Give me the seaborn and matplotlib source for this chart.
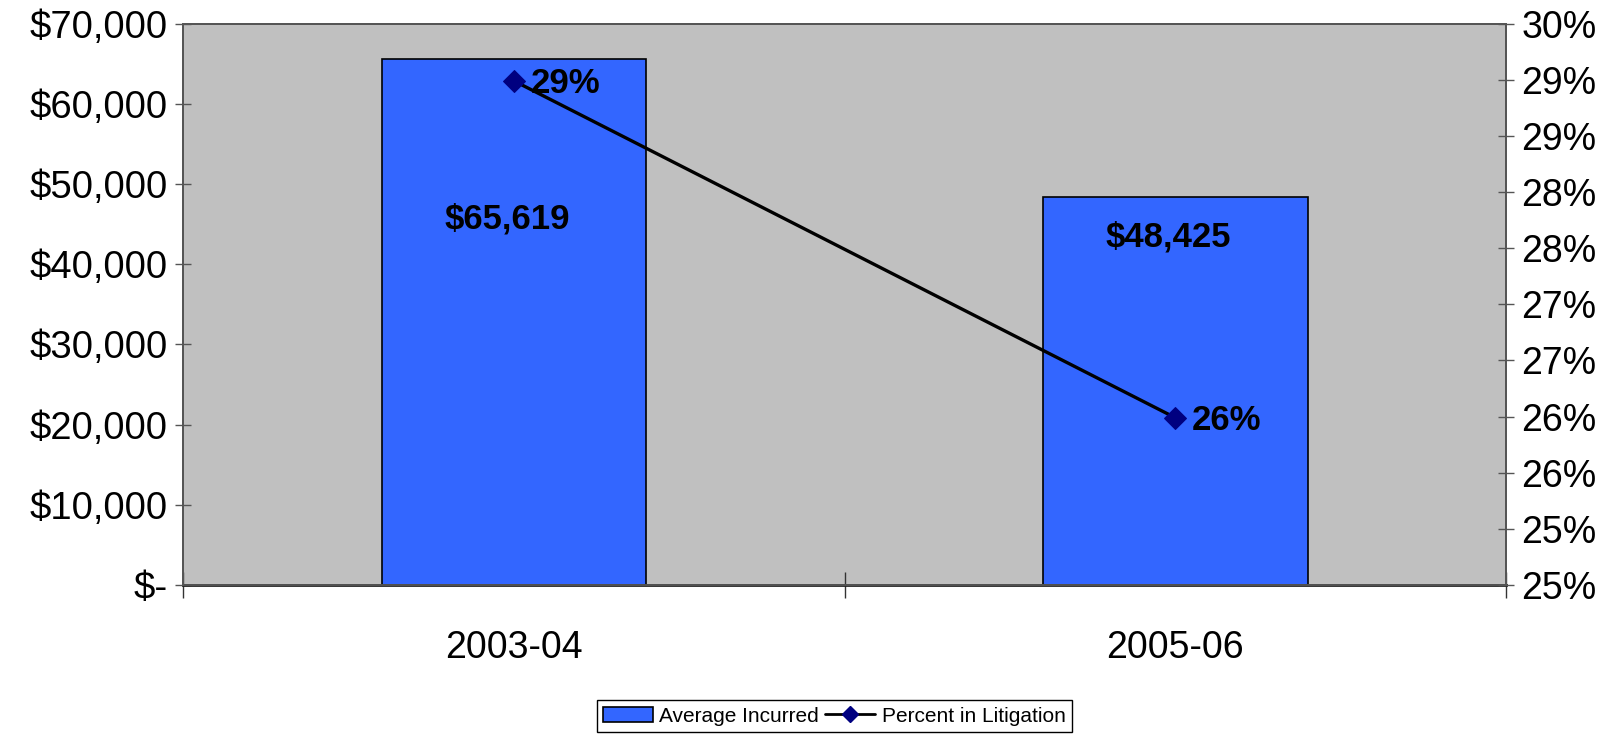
import matplotlib
matplotlib.use("Agg")
import matplotlib.pyplot as plt
from matplotlib.patches import Patch
from matplotlib.lines import Line2D
import seaborn as sns
import pandas as pd

# Data
periods = ["2003-04", "2005-06"]
avg_incurred = [65619, 48425]
pct_litigation = [0.2949, 0.2649]

money_ticks = [0, 10000, 20000, 30000, 40000, 50000, 60000, 70000]
money_tick_labels = ["$-", "$10,000", "$20,000", "$30,000", "$40,000",
                     "$50,000", "$60,000", "$70,000"]
pct_ticks = [0.25, 0.255, 0.26, 0.265, 0.27, 0.275, 0.28, 0.285, 0.29, 0.295, 0.30]
pct_tick_labels = ["25%", "25%", "26%", "26%", "27%", "27%",
                   "28%", "28%", "29%", "29%", "30%"]

df = pd.DataFrame({"period": periods, "avg": avg_incurred, "pct": pct_litigation})

sns.set_theme(style="white")
plt.rcParams["font.family"] = ["Liberation Sans", "DejaVu Sans"]
plt.rcParams["text.color"] = "black"
plt.rcParams["xtick.color"] = "black"
plt.rcParams["ytick.color"] = "black"
plt.rcParams["xtick.labelcolor"] = "black"
plt.rcParams["ytick.labelcolor"] = "black"

fig = plt.figure(figsize=(16.23, 7.36), dpi=100)
ax = fig.add_axes([0.1128, 0.205, 0.8152, 0.763])
ax.set_facecolor("#C0C0C0")

bar_color = "#3366FF"
sns.barplot(data=df, x="period", y="avg", ax=ax, color=bar_color, width=0.4,
            edgecolor="black", linewidth=1.2, saturation=1)
ax.set_xlim(-0.5, 1.5)
ax.set_ylim(0, 70000)
ax.set_yticks(money_ticks)
ax.set_yticklabels(money_tick_labels)
ax.set_xlabel("")
ax.set_ylabel("")

# bar value labels, placed in the upper part of each bar
label_y = [45600, 43400]
for i, v in enumerate(avg_incurred):
    ax.text(i - 0.01, label_y[i], f"${v:,}", ha="center", va="center",
            fontsize=25, fontweight="bold", color="black")

# secondary axis: share in litigation
ax2 = ax.twinx()
ax2.set_facecolor("none")
sns.lineplot(data=df, x="period", y="pct", ax=ax2, color="black", linewidth=2.4,
             marker="D", markersize=11, markerfacecolor="#000080",
             markeredgecolor="#000080", legend=False)
ax2.set_ylim(0.25, 0.30)
ax2.set_yticks(pct_ticks)
ax2.set_yticklabels(pct_tick_labels)
ax2.set_xlim(-0.5, 1.5)
ax2.set_xlabel("")
ax2.set_ylabel("")
for i, p in enumerate(pct_litigation):
    ax2.annotate(f"{round(p * 100)}%", (i, p), xytext=(12, -2),
                 textcoords="offset points", ha="left", va="center",
                 fontsize=25, fontweight="bold", color="black")

# axes styling
for a in (ax, ax2):
    for s in a.spines.values():
        s.set_color("#555555")
        s.set_linewidth(1.3)
ax.spines["bottom"].set_color("#222222")
ax.spines["bottom"].set_linewidth(2)

ax.tick_params(axis="y", direction="inout", length=12, width=1, color="#555555",
               labelsize=27.5, pad=5, left=True)
ax2.tick_params(axis="y", direction="inout", length=12, width=1, color="#555555",
                labelsize=27, pad=5, right=True)
ax.set_xticks([0, 1])
ax.set_xticklabels(periods)
ax.tick_params(axis="x", which="major", length=0, labelsize=27, pad=32)
ax.set_xticks([-0.5, 0.5, 1.5], minor=True)
ax.tick_params(axis="x", which="minor", direction="inout", length=19, width=1,
               color="#333333", bottom=True)
ax2.tick_params(axis="x", which="both", length=0, labelbottom=False)

handles = [
    Patch(facecolor=bar_color, edgecolor="black", linewidth=1.2, label="Average Incurred"),
    Line2D([0], [0], color="black", linewidth=2, marker="D", markersize=8,
           markerfacecolor="#000080", markeredgecolor="#000080",
           label="Percent in Litigation"),
]
leg = fig.legend(handles=handles, loc="center", bbox_to_anchor=(0.514, 0.027),
                 ncol=2, fontsize=15, frameon=True, fancybox=False,
                 edgecolor="black", framealpha=1, handlelength=2.4,
                 handletextpad=0.3, columnspacing=0.3, borderpad=0.3)
leg.get_frame().set_linewidth(1)

fig.savefig("out.png", dpi=100)
